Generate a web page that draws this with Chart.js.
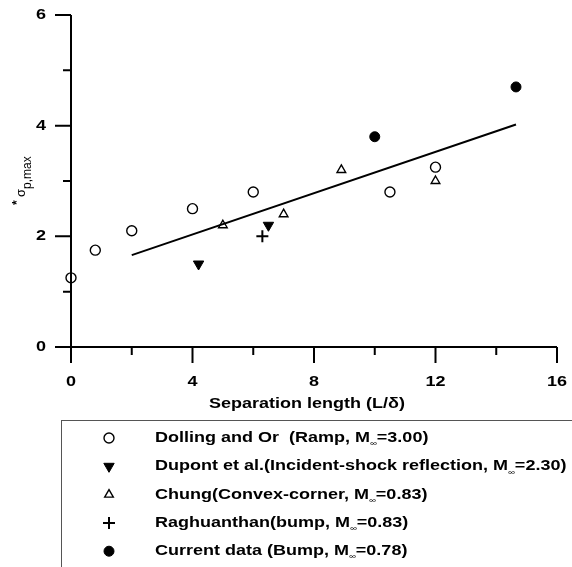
<!DOCTYPE html>
<html>
<head>
<meta charset="utf-8">
<script src="https://cdn.jsdelivr.net/npm/chart.js@4/dist/chart.umd.min.js"></script>
<style>
  html, body { margin: 0; padding: 0; background: #fff; }
  canvas { display: block; }
</style>
</head>
<body>
<canvas id="chart" width="572" height="567"></canvas>
<script>
// measured peak values vs. separation length
const dollingX = [0, 0.8, 2, 4, 6, 10.5, 12];
const dollingY = [1.25, 1.75, 2.1, 2.5, 2.8, 2.8, 3.25];
const dupontX = [4.2, 6.5];
const dupontY = [1.5, 2.2];
const chungX = [5, 7, 8.9, 12];
const chungY = [2.2, 2.4, 3.2, 3.0];
const raghuX = [6.3];
const raghuY = [2.0];
const currentX = [10, 14.65];
const currentY = [3.8, 4.7];

// least-squares line end points
const fitX = [2, 14.65];
const fitY = [1.66, 4.02];

const xMajorTicks = [0, 4, 8, 12, 16];
const xMinorTicks = [2, 6, 10, 14];
const yMajorTicks = [0, 2, 4, 6];
const yMinorTicks = [1, 3, 5];

const xTitle = 'Separation length (L/δ)';
const legendLabels = [
  'Dolling and Or  (Ramp, M∞=3.00)',
  'Dupont et al.(Incident-shock reflection, M∞=2.30)',
  'Chung(Convex-corner, M∞=0.83)',
  'Raghuanthan(bump, M∞=0.83)',
  'Current data (Bump, M∞=0.78)'
];

const FONT = '"Liberation Sans", Arial, sans-serif';
const BOLD = 'bold 15px ' + FONT;
const WIDE = 1.2; // labels are set a little wider than the plain face
const zip = (xs, ys) => xs.map((x, i) => ({ x: x, y: ys[i] }));

const series = [
  { data: zip(dollingX, dollingY), pointStyle: 'circle', radius: 5, fill: false, rotation: 0, border: 1.4 },
  { data: zip(dupontX, dupontY), pointStyle: 'triangle', radius: 6, fill: true, rotation: 180, border: 1 },
  { data: zip(chungX, chungY), pointStyle: 'triangle', radius: 5, fill: false, rotation: 0, border: 1.4 },
  { data: zip(raghuX, raghuY), pointStyle: 'cross', radius: 6, fill: false, rotation: 0, border: 2 },
  { data: zip(currentX, currentY), pointStyle: 'circle', radius: 5, fill: true, rotation: 0, border: 1 }
];

const datasets = series.map(s => ({
  data: s.data,
  pointStyle: s.pointStyle,
  pointRadius: s.radius,
  pointRotation: s.rotation,
  pointBorderWidth: s.border,
  pointBorderColor: '#000',
  pointBackgroundColor: s.fill ? '#000' : 'rgba(0,0,0,0)',
  showLine: false,
  clip: false
}));

datasets.push({
  data: zip(fitX, fitY),
  showLine: true,
  borderColor: '#000',
  borderWidth: 2,
  pointRadius: 0,
  clip: false
});

function wideText(ctx, text, x, y) {
  ctx.save();
  ctx.translate(x, y);
  ctx.scale(WIDE, 1);
  ctx.fillText(text, 0, 0);
  ctx.restore();
  return ctx.measureText(text).width * WIDE;
}

// axes, ticks, titles and the boxed legend are painted here
const framePlugin = {
  id: 'frame',
  beforeDatasetsDraw(chart) {
    const ctx = chart.ctx;
    const xs = chart.scales.x, ys = chart.scales.y;
    const x0 = xs.getPixelForValue(0), x1 = xs.getPixelForValue(16);
    const y0 = ys.getPixelForValue(0), y1 = ys.getPixelForValue(6);
    ctx.save();
    ctx.strokeStyle = '#000';
    ctx.fillStyle = '#000';
    ctx.lineWidth = 2;
    ctx.lineCap = 'butt';
    ctx.beginPath();
    ctx.moveTo(x0, y1); ctx.lineTo(x0, y0);
    ctx.moveTo(x0, y0); ctx.lineTo(x1, y0);
    xMajorTicks.forEach(v => { const p = xs.getPixelForValue(v); ctx.moveTo(p, y0); ctx.lineTo(p, y0 + 16); });
    xMinorTicks.forEach(v => { const p = xs.getPixelForValue(v); ctx.moveTo(p, y0); ctx.lineTo(p, y0 + 8); });
    yMajorTicks.forEach(v => { const p = ys.getPixelForValue(v); ctx.moveTo(x0, p); ctx.lineTo(x0 - 16, p); });
    yMinorTicks.forEach(v => { const p = ys.getPixelForValue(v); ctx.moveTo(x0, p); ctx.lineTo(x0 - 8, p); });
    ctx.stroke();

    ctx.font = BOLD;
    ctx.textAlign = 'center';
    ctx.textBaseline = 'middle';
    xMajorTicks.forEach(v => wideText(ctx, String(v), xs.getPixelForValue(v), y0 + 35));
    ctx.textAlign = 'right';
    yMajorTicks.forEach(v => wideText(ctx, String(v), x0 - 25, ys.getPixelForValue(v)));

    ctx.textAlign = 'center';
    wideText(ctx, xTitle, 307, y0 + 57);

    // rotated y title: *σ with p,max subscript
    ctx.save();
    ctx.translate(25, 205);
    ctx.rotate(-Math.PI / 2);
    ctx.textAlign = 'left';
    ctx.textBaseline = 'alphabetic';
    ctx.font = 'bold 12px ' + FONT;
    ctx.fillText('*', 0, -4);
    ctx.font = '13px ' + FONT;
    ctx.fillText('σ', 8, 0);
    const sw = ctx.measureText('σ').width;
    ctx.font = '12px ' + FONT;
    ctx.fillText('p,max', 8 + sw, 6);
    ctx.restore();

    // legend box
    ctx.lineWidth = 1;
    ctx.strokeStyle = '#555';
    ctx.strokeRect(61.5, 420.5, 600, 200);
    ctx.strokeStyle = '#000';
    legendLabels.forEach((label, i) => {
      const y = 438 + i * 28.3;
      const s = series[i];
      ctx.save();
      ctx.lineWidth = s.border;
      ctx.fillStyle = s.fill ? '#000' : 'rgba(0,0,0,0)';
      Chart.helpers.drawPoint(ctx, { pointStyle: s.pointStyle, radius: s.radius, rotation: s.rotation, borderWidth: s.border }, 109, y);
      ctx.restore();
      const parts = label.split('∞');
      ctx.textAlign = 'left';
      ctx.textBaseline = 'middle';
      let x = 155;
      ctx.font = BOLD;
      x += wideText(ctx, parts[0], x, y);
      ctx.font = '8px ' + FONT;
      x += wideText(ctx, '∞', x, y + 6);
      ctx.font = BOLD;
      wideText(ctx, parts[1], x, y);
    });
    ctx.restore();
  }
};

new Chart(document.getElementById('chart'), {
  type: 'scatter',
  data: { datasets: datasets },
  options: {
    responsive: false,
    animation: false,
    devicePixelRatio: 1,
    layout: { padding: { left: 71, right: 15, top: 15, bottom: 220 } },
    scales: {
      x: { type: 'linear', min: 0, max: 16, display: false },
      y: { type: 'linear', min: 0, max: 6, display: false }
    },
    plugins: { legend: { display: false }, tooltip: { enabled: false } }
  },
  plugins: [framePlugin]
});
</script>
</body>
</html>
